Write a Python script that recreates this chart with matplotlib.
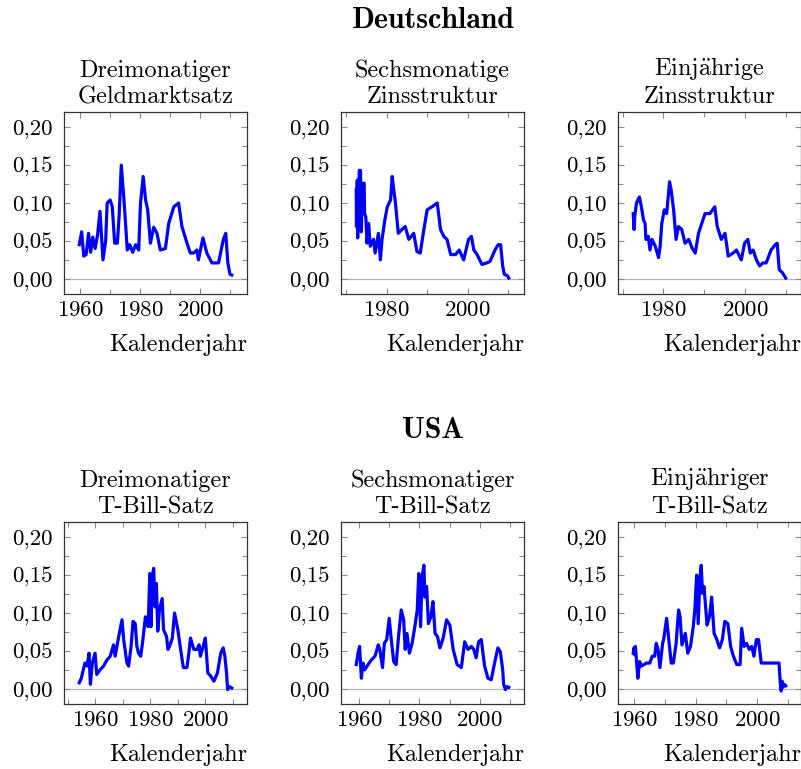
import numpy as np
import matplotlib
matplotlib.use('Agg')
import matplotlib.pyplot as plt
from matplotlib.ticker import MultipleLocator, FuncFormatter

plt.rcParams['font.family'] = 'cmr10'
plt.rcParams['mathtext.fontset'] = 'cm'
plt.rcParams['axes.formatter.use_mathtext'] = True

# Deutschland, dreimonatiger Geldmarktsatz
de3_year = [1959.7, 1960.5, 1961.2, 1962.0, 1962.8, 1963.5, 1964.2, 1965.0, 1965.8, 1966.6,
            1967.6, 1968.5, 1969.0, 1970.0, 1970.7, 1971.5, 1972.4, 1973.0, 1973.7, 1974.6,
            1975.7, 1976.5, 1977.5, 1978.5, 1979.5, 1980.1, 1981.0, 1981.8, 1982.5, 1983.4,
            1984.5, 1985.6, 1986.7, 1988.4, 1989.5, 1991.2, 1992.8, 1993.9, 1995.6, 1996.7,
            1997.8, 1998.9, 1999.4, 2000.9, 2002.2, 2003.9, 2006.1, 2007.7, 2008.5, 2009.2,
            2009.9, 2010.5]
de3_rate = [0.045, 0.062, 0.030, 0.032, 0.060, 0.035, 0.055, 0.040, 0.058, 0.089,
            0.025, 0.050, 0.100, 0.104, 0.095, 0.047, 0.047, 0.084, 0.150, 0.104,
            0.038, 0.045, 0.035, 0.045, 0.038, 0.100, 0.135, 0.104, 0.091, 0.047,
            0.068, 0.060, 0.038, 0.040, 0.073, 0.095, 0.100, 0.069, 0.047, 0.034,
            0.034, 0.038, 0.025, 0.054, 0.034, 0.021, 0.021, 0.052, 0.060, 0.021,
            0.006, 0.005]

# Deutschland, sechsmonatige Zinsstruktur
de6_year = [1972.55, 1972.6, 1972.8, 1972.9, 1973.3, 1973.6, 1973.8, 1974.1, 1974.5, 1974.6,
            1974.9, 1975.2, 1975.6, 1976.0, 1976.8, 1977.2, 1978.0, 1978.5, 1978.9, 1979.6,
            1980.2, 1981.0, 1981.4, 1981.8, 1982.2, 1982.9, 1983.8, 1984.6, 1985.5, 1986.7,
            1987.5, 1988.3, 1989.2, 1990.0, 1991.2, 1992.5, 1993.3, 1994.1, 1994.9, 1995.8,
            1997.0, 1997.9, 1999.0, 2000.2, 2000.9, 2001.5, 2002.3, 2003.5, 2004.7, 2005.5,
            2006.7, 2007.5, 2008.1, 2008.6, 2009.0, 2009.8, 2010.1]
de6_rate = [0.117, 0.069, 0.130, 0.054, 0.143, 0.143, 0.062, 0.126, 0.126, 0.086,
            0.082, 0.047, 0.073, 0.043, 0.052, 0.034, 0.060, 0.025, 0.052, 0.078,
            0.095, 0.104, 0.135, 0.117, 0.100, 0.060, 0.065, 0.069, 0.052, 0.060,
            0.036, 0.034, 0.065, 0.091, 0.095, 0.100, 0.065, 0.056, 0.052, 0.032,
            0.032, 0.038, 0.025, 0.052, 0.056, 0.038, 0.032, 0.019, 0.021, 0.023,
            0.038, 0.045, 0.045, 0.017, 0.006, 0.004, 0.001]

# Deutschland, einjaehrige Zinsstruktur
de12_year = [1972.6, 1972.8, 1973.0, 1973.4, 1974.1, 1974.6, 1975.1, 1975.5, 1975.7, 1976.3,
             1976.7, 1977.2, 1978.0, 1978.8, 1979.2, 1979.6, 1980.2, 1980.8, 1981.5, 1981.9,
             1982.5, 1983.1, 1983.7, 1984.5, 1985.3, 1986.2, 1987.0, 1987.8, 1988.6, 1989.4,
             1990.2, 1991.4, 1992.6, 1993.2, 1994.2, 1995.1, 1995.9, 1997.1, 1997.9, 1999.1,
             1999.9, 2000.7, 2001.3, 2002.0, 2002.8, 2003.6, 2004.4, 2005.2, 2006.4, 2007.4,
             2007.9, 2008.4, 2009.2, 2010.0]
de12_rate = [0.086, 0.065, 0.084, 0.100, 0.108, 0.095, 0.078, 0.073, 0.052, 0.056,
             0.038, 0.052, 0.043, 0.028, 0.043, 0.073, 0.091, 0.086, 0.128, 0.117,
             0.091, 0.052, 0.069, 0.065, 0.047, 0.052, 0.041, 0.034, 0.060, 0.073,
             0.086, 0.086, 0.095, 0.069, 0.052, 0.060, 0.030, 0.034, 0.038, 0.025,
             0.047, 0.052, 0.034, 0.038, 0.025, 0.017, 0.021, 0.021, 0.038, 0.045,
             0.047, 0.012, 0.008, 0.001]

# USA, dreimonatiger T-Bill-Satz
us3_year = [1954.25, 1955.0, 1956.3, 1957.1, 1957.8, 1958.3, 1959.0, 1960.0, 1960.6, 1961.8,
            1963.1, 1964.3, 1965.5, 1966.7, 1967.3, 1968.6, 1969.8, 1970.4, 1971.6, 1972.2,
            1973.1, 1973.8, 1974.6, 1975.2, 1975.8, 1976.6, 1977.4, 1978.3, 1979.3, 1979.9,
            1980.3, 1980.8, 1981.3, 1981.8, 1982.3, 1982.8, 1983.4, 1984.4, 1984.9, 1986.0,
            1986.5, 1987.1, 1988.1, 1988.9, 1990.1, 1991.1, 1992.1, 1993.4, 1994.1, 1994.7,
            1995.9, 1997.1, 1997.8, 1998.3, 1999.3, 2000.1, 2001.0, 2002.0, 2003.2, 2004.5,
            2005.7, 2006.6, 2007.2, 2007.8, 2008.2, 2008.8, 2009.7]
us3_rate = [0.008, 0.014, 0.034, 0.030, 0.047, 0.006, 0.034, 0.047, 0.019, 0.025,
            0.030, 0.038, 0.043, 0.058, 0.043, 0.069, 0.091, 0.065, 0.034, 0.030,
            0.056, 0.089, 0.086, 0.056, 0.047, 0.043, 0.065, 0.095, 0.082, 0.152,
            0.082, 0.148, 0.159, 0.108, 0.139, 0.076, 0.104, 0.119, 0.078, 0.069,
            0.052, 0.056, 0.067, 0.100, 0.078, 0.052, 0.028, 0.028, 0.047, 0.067,
            0.052, 0.052, 0.058, 0.043, 0.056, 0.067, 0.021, 0.017, 0.010, 0.021,
            0.047, 0.054, 0.043, 0.021, -0.001, 0.003, 0.001]

# USA, sechsmonatiger T-Bill-Satz
us6_year = [1959.1, 1959.7, 1960.2, 1960.8, 1961.3, 1961.9, 1963.0, 1964.1, 1965.3, 1966.4,
            1966.9, 1967.8, 1968.4, 1969.2, 1970.0, 1970.7, 1971.5, 1972.3, 1973.1, 1974.0,
            1974.8, 1975.3, 1975.9, 1976.7, 1977.6, 1978.5, 1979.3, 1979.8, 1980.4, 1980.9,
            1981.5, 1981.8, 1982.4, 1983.0, 1983.8, 1984.5, 1985.2, 1986.0, 1986.8, 1987.9,
            1989.0, 1990.1, 1991.2, 1992.5, 1993.9, 1995.0, 1996.1, 1997.2, 1998.0, 1998.8,
            1999.6, 2000.5, 2001.6, 2002.7, 2003.8, 2004.9, 2006.0, 2006.8, 2007.6, 2007.9,
            2008.5, 2009.1, 2009.6]
us6_rate = [0.032, 0.047, 0.056, 0.014, 0.034, 0.025, 0.032, 0.038, 0.043, 0.058,
            0.052, 0.028, 0.060, 0.065, 0.093, 0.065, 0.036, 0.032, 0.069, 0.104,
            0.091, 0.052, 0.073, 0.047, 0.060, 0.082, 0.104, 0.152, 0.082, 0.148,
            0.163, 0.121, 0.135, 0.086, 0.095, 0.115, 0.073, 0.069, 0.054, 0.067,
            0.091, 0.084, 0.052, 0.032, 0.028, 0.062, 0.052, 0.056, 0.052, 0.041,
            0.062, 0.065, 0.030, 0.014, 0.012, 0.034, 0.054, 0.049, 0.025, 0.006,
            -0.001, 0.003, 0.002]

# USA, einjaehriger T-Bill-Satz
us12_year = [1959.6, 1959.8, 1960.0, 1960.3, 1961.1, 1961.7, 1962.2, 1963.9, 1965.0, 1965.8,
             1966.6, 1967.1, 1967.7, 1968.3, 1969.2, 1969.6, 1970.5, 1971.1, 1972.0, 1972.7,
             1973.6, 1974.4, 1974.9, 1975.5, 1976.6, 1977.4, 1978.3, 1979.2, 1979.7, 1980.3,
             1980.8, 1981.4, 1981.8, 1982.2, 1982.7, 1983.7, 1984.5, 1985.2, 1986.0, 1986.7,
             1987.8, 1988.7, 1989.5, 1990.5, 1991.4, 1992.3, 1993.4, 1994.5, 1995.0, 1995.8,
             1996.6, 1997.5, 1998.3, 1999.0, 1999.8, 2000.5, 2001.4, 2002.8, 2005.0, 2007.2,
             2007.6, 2007.9, 2008.2, 2008.5, 2008.9, 2009.4]
us12_rate = [0.047, 0.054, 0.045, 0.056, 0.014, 0.036, 0.030, 0.034, 0.034, 0.043,
             0.043, 0.060, 0.052, 0.028, 0.060, 0.067, 0.093, 0.069, 0.034, 0.034,
             0.060, 0.104, 0.095, 0.058, 0.073, 0.047, 0.056, 0.082, 0.104, 0.150,
             0.086, 0.148, 0.163, 0.126, 0.135, 0.084, 0.095, 0.121, 0.073, 0.067,
             0.054, 0.065, 0.089, 0.086, 0.056, 0.043, 0.032, 0.032, 0.080, 0.056,
             0.060, 0.052, 0.056, 0.043, 0.065, 0.065, 0.034, 0.034, 0.034, 0.034,
             0.008, -0.003, 0.010, 0.002, 0.006, 0.004]

titles = [r'Dreimonatiger' + '\n' + 'Geldmarktsatz',
          'Sechsmonatige\nZinsstruktur',
          r'Einj$\ddot{\mathrm{a}}$hrige' + '\n' + 'Zinsstruktur',
          'Dreimonatiger\nT-Bill-Satz',
          'Sechsmonatiger\nT-Bill-Satz',
          r'Einj$\ddot{\mathrm{a}}$hriger' + '\n' + 'T-Bill-Satz']
series = [(de3_year, de3_rate), (de6_year, de6_rate), (de12_year, de12_rate),
          (us3_year, us3_rate), (us6_year, us6_rate), (us12_year, us12_rate)]

W, H = 801, 769
fig = plt.figure(figsize=(W / 100, H / 100), dpi=100)

cols = [(64, 247), (341, 524), (618, 801)]
rows = [(112, 294), (522, 704)]

def comma_fmt(v, pos):
    return f'{v:.2f}'.replace('.', ',')

for k, (yrs, vals) in enumerate(series):
    r, c = divmod(k, 3)
    x0, x1 = cols[c]
    y0, y1 = rows[r]
    ax = fig.add_axes([x0 / W, 1 - y1 / H, (x1 - x0) / W, (y1 - y0) / H])
    yrs = np.array(yrs)
    span = yrs.max() - yrs.min()
    ax.set_xlim(yrs.min() - 0.1 * span, yrs.max() + 0.1 * span)
    ax.set_ylim(-0.02, 0.22)
    ax.axhline(0, color='#b5b5b5', lw=0.9, zorder=1)
    ax.plot(yrs, vals, color='blue', lw=2.3, zorder=3)

    ax.xaxis.set_major_locator(MultipleLocator(20))
    ax.xaxis.set_minor_locator(MultipleLocator(10))
    ax.yaxis.set_major_locator(MultipleLocator(0.05))
    ax.yaxis.set_minor_locator(MultipleLocator(0.025))
    ax.yaxis.set_major_formatter(FuncFormatter(comma_fmt))
    ax.tick_params(which='both', direction='in', top=True, right=True,
                   color='#8c8c8c', width=0.8, labelsize=16.5)
    ax.tick_params(which='major', length=4.5)
    ax.tick_params(axis='x', which='major', pad=5)
    ax.tick_params(axis='y', which='major', pad=8)
    ax.tick_params(which='minor', length=3.5)
    for s in ax.spines.values():
        s.set_color('#333333')
        s.set_linewidth(0.9)

    ax.text(0.5, 1.02, titles[k], transform=ax.transAxes, ha='center', va='bottom',
            fontsize=17.5, linespacing=1.22)
    ax.set_xlabel('Kalenderjahr', loc='right', fontsize=17.5, labelpad=10)

fig.text(433 / W, 1 - 20 / H, 'Deutschland', family='cmb10', fontsize=21.5,
         ha='center', va='center')
fig.text(433 / W, 1 - 430 / H, 'USA', family='cmb10', fontsize=21.5,
         ha='center', va='center')

fig.savefig('out.png', dpi=100)
